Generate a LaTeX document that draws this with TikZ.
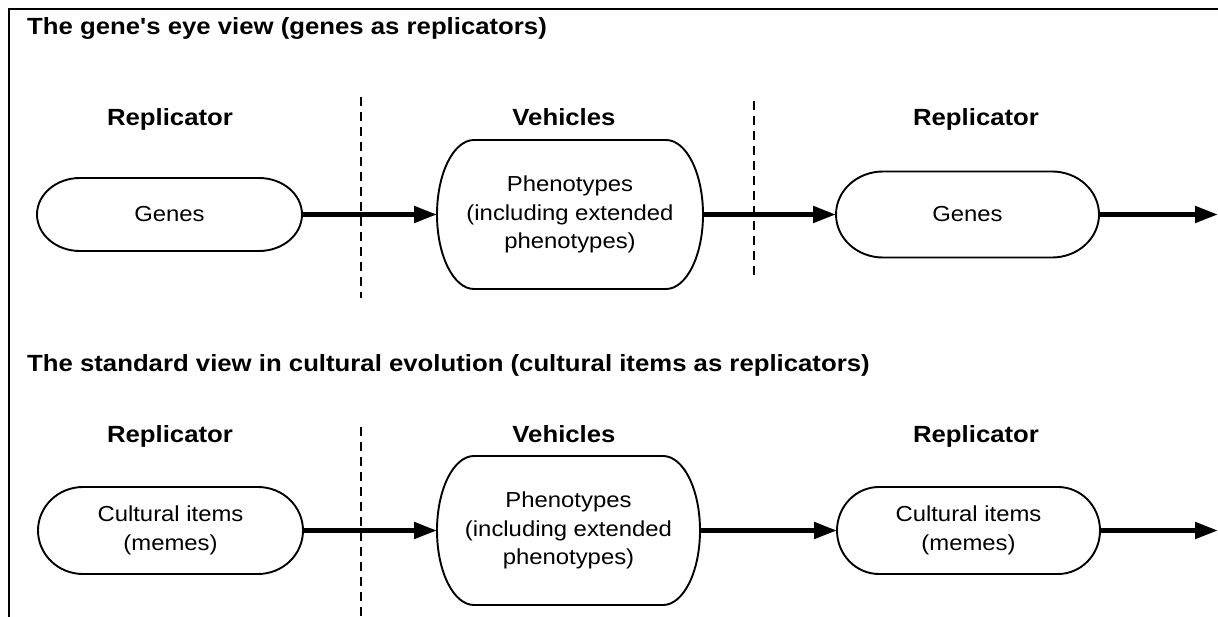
\documentclass[tikz,border=0pt]{standalone}
\usepackage{fontspec}
\setmainfont{Liberation Sans}[FakeStretch=1.1,Ligatures=TeXOff]
\usetikzlibrary{arrows.meta,calc}
\tikzset{
  pillnode/.style={inner sep=0pt,outer sep=0pt,align=center,font=\fontsize{21.7}{28.5}\selectfont},
  hdr/.style={anchor=base,inner sep=0pt,font=\fontsize{23.4}{27}\selectfont\bfseries},
  ttl/.style={anchor=base west,inner sep=0pt,font=\fontsize{23.4}{27}\selectfont\bfseries},
  flow/.style={line width=5pt,-{Triangle[length=23pt,width=16pt]}},
  divider/.style={line width=1.6pt,dash pattern=on 9pt off 6pt},
  pillline/.style={line width=1.9pt},
  frameline/.style={line width=2.2pt},
}
\newcommand\pill[2]{%
  \draw[pillline] let \p1=(#1.north west), \p2=(#1.south east), \n1={(\y1-\y2)/2} in
   ($(\x1,\y1)+(#2pt,0)$) -- ($(\x2,\y1)-(#2pt,0)$) arc[start angle=90,end angle=-90,x radius=#2pt,y radius=\n1]
   -- ($(\x1,\y2)+(#2pt,0)$) arc[start angle=270,end angle=90,x radius=#2pt,y radius=\n1] -- cycle;}
\begin{document}
\begin{tikzpicture}[x=1pt,y=1pt]
\useasboundingbox (0,0) rectangle (1218,-617);
\draw[frameline] (9,-617) -- (9,-9) -- (1218,-9);

\node[ttl] (t1) at (27,-35) {The gene's eye view (genes as replicators)};
\node[ttl] (t2) at (27,-372) {The standard view in cultural evolution (cultural items as replicators)};

\node[hdr] (h1) at (170,-126) {Replicator};
\node[hdr] (h2) at (564,-126) {Vehicles};
\node[hdr] (h3) at (976,-126) {Replicator};
\node[hdr] (h4) at (170,-442) {Replicator};
\node[hdr] (h5) at (564,-442) {Vehicles};
\node[hdr] (h6) at (976,-442) {Replicator};

\node[pillnode,minimum width=265pt,minimum height=73pt] (g1) at (169.5,-214.5) {Genes};
\node[pillnode,minimum width=266pt,minimum height=149pt] (p1) at (570,-214.5) {Phenotypes\\(including extended\\phenotypes)};
\node[pillnode,minimum width=263pt,minimum height=86pt] (g2) at (967.5,-214.5) {Genes};
\node[pillnode,minimum width=265pt,minimum height=87pt] (c1) at (170.5,-530.5) {Cultural items\\(memes)};
\node[pillnode,minimum width=263pt,minimum height=149pt] (p2) at (568.5,-530.5) {Phenotypes\\(including extended\\phenotypes)};
\node[pillnode,minimum width=263pt,minimum height=87pt] (c2) at (968.5,-530.5) {Cultural items\\(memes)};
\pill{g1}{43}
\pill{p1}{37}
\pill{g2}{47}
\pill{c1}{45}
\pill{p2}{37}
\pill{c2}{42}

\coordinate (e1) at (1218,-214.5);
\coordinate (e2) at (1218,-530.5);
\draw[flow] (g1.east) -- (p1.west);
\draw[flow] (p1.east) -- (g2.west);
\draw[flow] (g2.east) -- (e1);
\draw[flow] (c1.east) -- (p2.west);
\draw[flow] (p2.east) -- (c2.west);
\draw[flow] (c2.east) -- (e2);

\coordinate (d1a) at (361,-97);
\coordinate (d1b) at (361,-298);
\coordinate (d2a) at (754,-101);
\coordinate (d2b) at (754,-279);
\coordinate (d3a) at (361,-427);
\coordinate (d3b) at (361,-617);
\draw[divider] (d1a) -- (d1b);
\draw[divider] (d2a) -- (d2b);
\draw[divider] (d3a) -- (d3b);
\end{tikzpicture}
\end{document}
